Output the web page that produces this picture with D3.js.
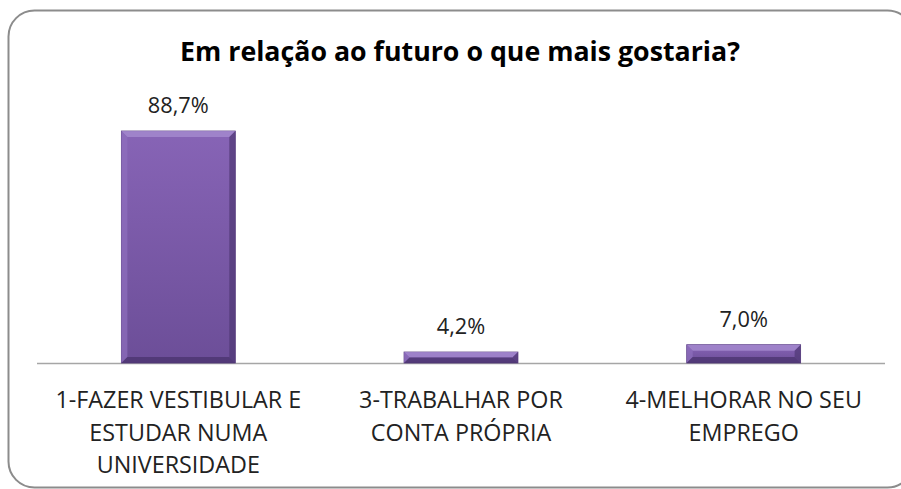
<!DOCTYPE html>
<html><head><meta charset="utf-8">
<script src="https://cdn.jsdelivr.net/npm/d3@7"></script>
<style>body{margin:0;background:#fff;} svg{display:block;}</style>
</head><body>
<svg id="c" width="901" height="489"></svg>
<script>
const title = "Em relação ao futuro o que mais gostaria?";
const categories = [
  ["1-FAZER VESTIBULAR E","ESTUDAR NUMA","UNIVERSIDADE"],
  ["3-TRABALHAR POR","CONTA PRÓPRIA"],
  ["4-MELHORAR NO SEU","EMPREGO"]
];
const values = [88.7, 4.2, 7.0];
const valueLabels = ["88,7%","4,2%","7,0%"];

const svg = d3.select("#c");
const font = "'Open Sans', Lato, sans-serif";

function fitSize(text, weight, target){
  const t = svg.append("text").attr("font-family",font).attr("font-weight",weight).attr("font-size",100).text(text);
  const w = t.node().getComputedTextLength(); t.remove();
  return 100*target/w;
}
const titleSize = fitSize(title,"bold",560);
const catSize = fitSize(categories[0][0],"normal",246);
const valSize = fitSize(valueLabels[0],"normal",61);

const defs = svg.append("defs");
const g = defs.append("linearGradient").attr("id","bg").attr("x1",0).attr("y1",0).attr("x2",0).attr("y2",1);
g.append("stop").attr("offset","0%").attr("stop-color","#8764b6");
g.append("stop").attr("offset","100%").attr("stop-color","#6c4e98");

svg.append("rect").attr("x",8.5).attr("y",10.5).attr("width",905).attr("height",477)
  .attr("rx",26).attr("fill","#fff").attr("stroke","#8c8c8c").attr("stroke-width",2);

svg.append("text").attr("x",460).attr("y",61).attr("text-anchor","middle")
  .attr("font-family",font).attr("font-weight","bold").attr("font-size",titleSize).attr("fill","#000").text(title);

const left=37, right=885, base=363, top0=131;
const x = d3.scaleBand().domain(d3.range(values.length)).range([left,right]).paddingInner(0.597).paddingOuter(0.2985);
const y = d3.scaleLinear().domain([0,88.7]).range([base, top0]);

svg.append("line").attr("x1",left).attr("x2",right).attr("y1",base+0.5).attr("y2",base+0.5)
  .attr("stroke","#a6a6a6").attr("stroke-width",1.5);

values.forEach((v,i)=>{
  const x0=x(i), w=x.bandwidth(), y0=y(v), h=base-y0;
  const b=Math.min(6,h/2);
  const grp=svg.append("g");
  grp.append("rect").attr("x",x0).attr("y",y0).attr("width",w).attr("height",h).attr("fill","url(#bg)").attr("stroke","#5a3f82").attr("stroke-width",0.8);
  grp.append("polygon").attr("points",`${x0},${y0} ${x0+w},${y0} ${x0+w-b},${y0+b} ${x0+b},${y0+b}`).attr("fill","#a58bd0").attr("opacity",0.8);
  grp.append("polygon").attr("points",`${x0},${y0} ${x0+b},${y0+b} ${x0+b},${base-b} ${x0},${base}`).attr("fill","#8e6fbd").attr("opacity",0.7);
  grp.append("polygon").attr("points",`${x0+w},${y0} ${x0+w},${base} ${x0+w-b},${base-b} ${x0+w-b},${y0+b}`).attr("fill","#4f3774").attr("opacity",0.7);
  grp.append("polygon").attr("points",`${x0},${base} ${x0+w},${base} ${x0+w-b},${base-b} ${x0+b},${base-b}`).attr("fill","#4a336d").attr("opacity",0.75);

  svg.append("text").attr("x",x0+w/2).attr("y",y0-18).attr("text-anchor","middle")
    .attr("font-family",font).attr("font-size",valSize).attr("fill","#222").text(valueLabels[i]);

  categories[i].forEach((line,j)=>{
    svg.append("text").attr("x",x0+w/2).attr("y",408+j*32.5).attr("text-anchor","middle")
      .attr("font-family",font).attr("font-size",catSize).attr("fill","#222").text(line);
  });
});
</script>
</body></html>
